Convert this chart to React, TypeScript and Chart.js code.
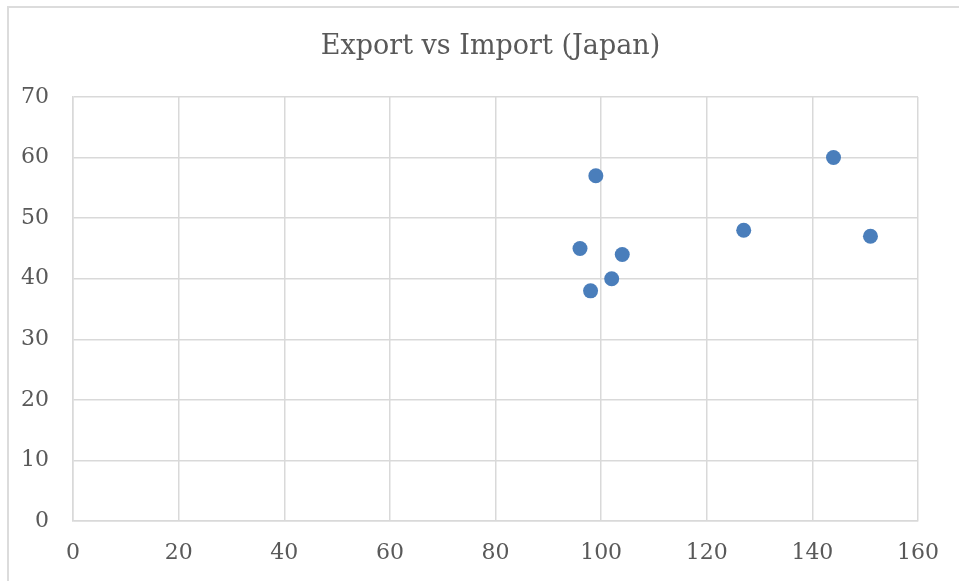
import React, { useEffect, useRef } from "react";
import { Chart, registerables } from "chart.js";

Chart.register(...registerables);

// Export (x) and import (y) values for Japan
const exportValues = [96, 99, 98, 102, 104, 127, 144, 151];
const importValues = [45, 57, 38, 40, 44, 48, 60, 47];

const chartTitle = "Export vs Import (Japan)";
const xTicks = { min: 0, max: 160, step: 20 };
const yTicks = { min: 0, max: 70, step: 10 };

const FONT = "'DejaVu Serif', 'Liberation Serif', serif";
const TEXT_COLOR = "#595959";
const GRID_COLOR = "#d9d9d9";
const POINT_COLOR = "#4a7ebb";

// Draws the chart heading above the plot area
const titlePlugin = {
  id: "chartHeading",
  afterDraw(chart: Chart) {
    const ctx = chart.ctx;
    ctx.save();
    ctx.font = `27px ${FONT}`;
    ctx.fillStyle = TEXT_COLOR;
    ctx.textAlign = "center";
    ctx.textBaseline = "alphabetic";
    ctx.fillText(chartTitle, 490.5, 54);
    ctx.restore();
  },
};

export default function App() {
  const canvasRef = useRef<HTMLCanvasElement | null>(null);

  useEffect(() => {
    document.body.style.margin = "0";
    const canvas = canvasRef.current;
    if (!canvas) return;
    const points = exportValues.map((x, i) => ({ x, y: importValues[i] }));
    const chart = new Chart(canvas, {
      type: "scatter",
      data: {
        datasets: [
          {
            label: "Import",
            data: points,
            backgroundColor: POINT_COLOR,
            borderColor: POINT_COLOR,
            borderWidth: 0,
            pointRadius: 7.5,
            pointHoverRadius: 7.5,
          },
        ],
      },
      options: {
        animation: false,
        responsive: false,
        maintainAspectRatio: false,
        layout: { padding: { top: 97, right: 41, left: 0, bottom: 0 } },
        plugins: {
          legend: { display: false },
          title: { display: false },
          tooltip: { enabled: false },
        },
        scales: {
          x: {
            type: "linear",
            min: xTicks.min,
            max: xTicks.max,
            ticks: {
              stepSize: xTicks.step,
              color: TEXT_COLOR,
              font: { family: FONT, size: 22 },
              padding: 19,
              maxRotation: 0,
            },
            grid: { color: GRID_COLOR, lineWidth: 1.5, drawTicks: false },
            border: { color: GRID_COLOR, width: 1.5 },
            afterFit(scale: any) {
              scale.height = 60;
            },
          },
          y: {
            type: "linear",
            min: yTicks.min,
            max: yTicks.max,
            ticks: {
              stepSize: yTicks.step,
              color: TEXT_COLOR,
              font: { family: FONT, size: 22 },
              padding: 24,
            },
            grid: { color: GRID_COLOR, lineWidth: 1.5, drawTicks: false },
            border: { color: GRID_COLOR, width: 1.5 },
            afterFit(scale: any) {
              scale.width = 73;
            },
          },
        },
      },
      plugins: [titlePlugin],
    });
    return () => chart.destroy();
  }, []);

  return (
    <div
      style={{
        position: "absolute",
        left: 0,
        top: 0,
        width: 959,
        height: 581,
        background: "#ffffff",
        overflow: "hidden",
      }}
    >
      <div
        style={{
          position: "absolute",
          left: 7,
          top: 6,
          right: 0,
          bottom: 0,
          borderLeft: "2px solid #dcdcdc",
          borderTop: "2px solid #dcdcdc",
        }}
      />
      <canvas
        ref={canvasRef}
        width={959}
        height={581}
        style={{ position: "absolute", left: 0, top: 0, width: 959, height: 581 }}
      />
    </div>
  );
}
